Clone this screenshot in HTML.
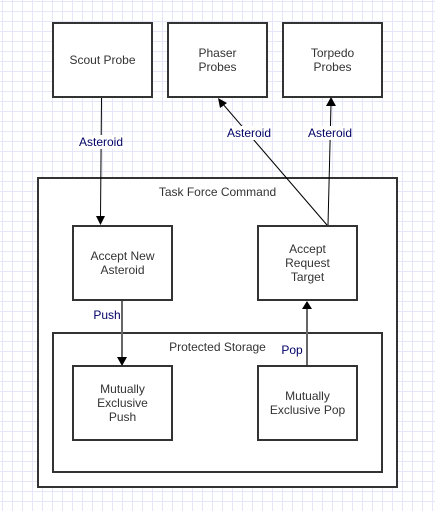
<!DOCTYPE html>
<html><head><style>
html,body{margin:0;padding:0}
body{width:435px;height:511px;position:relative;overflow:hidden;background-color:#fff;
background-image:linear-gradient(to right,#e6e6fa 1px,transparent 1px),linear-gradient(to bottom,#e6e6fa 1px,transparent 1px);
background-size:10px 10px;background-position:2px 1px;font-family:"Liberation Sans",Arial,sans-serif;}
.b{position:absolute;box-sizing:border-box;border:2px solid #333;background:#fff;display:flex;align-items:center;justify-content:center;text-align:center;font-size:12px;color:#333;line-height:14px}
.c{background:transparent;align-items:flex-start}
svg{position:absolute;left:0;top:0}
.l{position:absolute;font-size:12px;color:#000066;background:#fff;line-height:14px;transform:translate(-50%,-50%)}
</style></head><body>
<div class="b" style="left:37px;top:177px;width:361px;height:311px;justify-content:center;align-items:flex-start;padding-top:6px;background:#fff">Task Force Command</div>
<div class="b" style="left:52px;top:332px;width:331px;height:141px;align-items:flex-start;padding-top:6px">Protected Storage</div>
<div class="b" style="left:52px;top:22px;width:101px;height:76px">Scout Probe</div>
<div class="b" style="left:167px;top:22px;width:101px;height:76px">Phaser<br>Probes</div>
<div class="b" style="left:282px;top:22px;width:101px;height:76px">Torpedo<br>Probes</div>
<div class="b" style="left:72px;top:225px;width:101px;height:76px">Accept New<br>Asteroid</div>
<div class="b" style="left:257px;top:225px;width:101px;height:76px">Accept<br>Request<br>Target</div>
<div class="b" style="left:72px;top:365px;width:101px;height:76px">Mutually<br>Exclusive<br>Push</div>
<div class="b" style="left:257px;top:365px;width:101px;height:76px">Mutually<br>Exclusive Pop</div>
<svg width="435" height="511">
<g stroke="#000" fill="none" stroke-width="1">
<line x1="101.5" y1="98" x2="100.5" y2="218"/>
<line x1="327" y1="225" x2="222" y2="103"/>
<line x1="328" y1="225" x2="331" y2="104"/>
</g>
<g stroke="#666" stroke-width="2">
<line x1="122" y1="301" x2="122" y2="358"/>
<line x1="307" y1="365" x2="307" y2="308"/>
</g>
<g fill="#000">
<polygon points="96,216 105,216 100.5,225"/>
<polygon points="117,357 127,357 122,366"/>
<polygon points="302,309 312,309 307,301"/>
<polygon points="326,106 336,106 331,97"/>
<polygon points="218,98 227,103 220,108"/>
</g>
</svg>
<div class="l" style="left:101px;top:142px">Asteroid</div>
<div class="l" style="left:249px;top:133px">Asteroid</div>
<div class="l" style="left:330px;top:133px">Asteroid</div>
<div class="l" style="left:107px;top:315px;background:transparent">Push</div>
<div class="l" style="left:292px;top:350px;background:transparent">Pop</div>
</body></html>
